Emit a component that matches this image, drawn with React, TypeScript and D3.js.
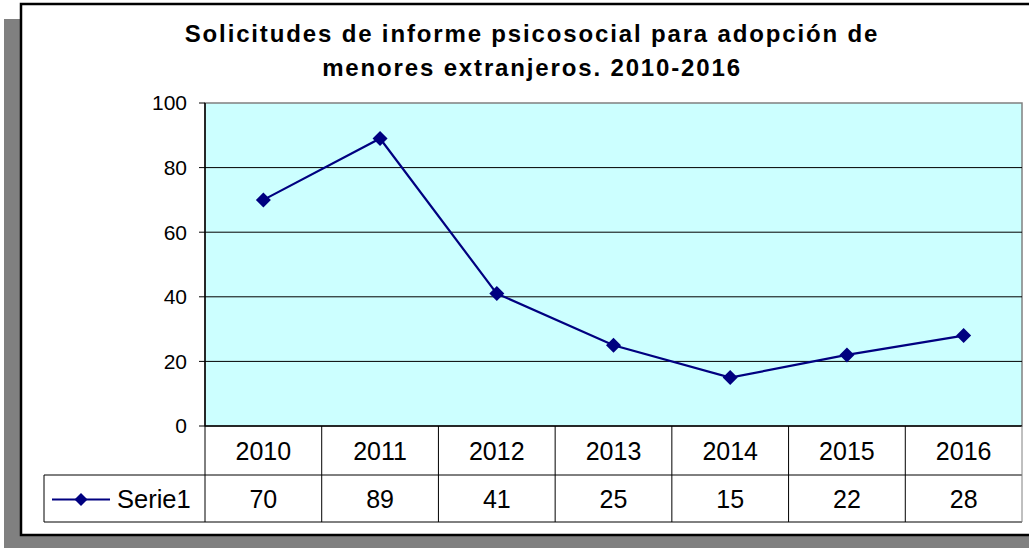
import React from "react";
import * as d3 from "d3";

const years = ["2010", "2011", "2012", "2013", "2014", "2015", "2016"];
const serie1 = [70, 89, 41, 25, 15, 22, 28];
const yTicks = [0, 20, 40, 60, 80, 100];
const seriesName = "Serie1";
const titleLines = [
  "Solicitudes de informe psicosocial para adopción de",
  "menores extranjeros. 2010-2016",
];

const W = 1029;
const H = 548;
const plot = { left: 205, top: 103, right: 1022, bottom: 426 };
const rowH1 = 49;
const rowH2 = 47;
const legendLeft = 44;
const navy = "#000080";
const font = "Arial, 'Liberation Sans', sans-serif";

export default function App() {
  const x = d3
    .scaleBand<string>()
    .domain(years)
    .range([plot.left, plot.right])
    .padding(0);
  const y = d3.scaleLinear().domain([0, 100]).range([plot.bottom, plot.top]);

  const line = d3
    .line<number>()
    .x((_, i) => x(years[i])! + x.bandwidth() / 2)
    .y((d) => y(d));

  const diamond = (cx: number, cy: number, r: number) =>
    `M${cx},${cy - r}L${cx + r},${cy}L${cx},${cy + r}L${cx - r},${cy}Z`;

  const row1Bottom = plot.bottom + rowH1;
  const row2Bottom = row1Bottom + rowH2;

  return (
    <svg
      width={W}
      height={H}
      style={{ position: "absolute", left: 0, top: 0, display: "block" }}
      fontFamily={font}
    >
      {/* shadow + chart box */}
      <rect x={4} y={19} width={W} height={H} fill="#808080" />
      <rect x={21} y={4} width={W + 20} height={531} fill="#fff" stroke="#000" strokeWidth={2.5} />

      {/* title */}
      {titleLines.map((t, i) => (
        <text
          key={i}
          x={532}
          y={42 + i * 34}
          textAnchor="middle"
          fontSize={24}
          fontWeight="bold"
          letterSpacing={1.85}
        >
          {t}
        </text>
      ))}

      {/* plot area */}
      <rect
        x={plot.left}
        y={plot.top}
        width={plot.right - plot.left}
        height={plot.bottom - plot.top}
        fill="#CCFFFF"
        stroke="#808080"
        strokeWidth={1.5}
      />
      {yTicks.slice(1, -1).map((t) => (
        <line key={t} x1={plot.left} x2={plot.right} y1={y(t)} y2={y(t)} stroke="#000" strokeWidth={1} />
      ))}
      <line x1={plot.left} x2={plot.left} y1={plot.top} y2={plot.bottom} stroke="#000" strokeWidth={1.5} />
      {yTicks.map((t) => (
        <g key={t}>
          <line x1={plot.left - 6} x2={plot.left} y1={y(t)} y2={y(t)} stroke="#000" />
          <text x={187} y={y(t)} dy="0.35em" textAnchor="end" fontSize={21}>
            {t}
          </text>
        </g>
      ))}

      {/* series */}
      <path d={line(serie1) ?? ""} fill="none" stroke={navy} strokeWidth={2.2} />
      {serie1.map((v, i) => (
        <path key={i} d={diamond(x(years[i])! + x.bandwidth() / 2, y(v), 7.5)} fill={navy} />
      ))}

      {/* data table */}
      <line x1={plot.left} x2={plot.right} y1={plot.bottom} y2={plot.bottom} stroke="#000" strokeWidth={1.5} />
      <line x1={legendLeft} x2={plot.right} y1={row1Bottom} y2={row1Bottom} stroke="#000" />
      <line x1={legendLeft} x2={plot.right} y1={row2Bottom} y2={row2Bottom} stroke="#000" />
      <line x1={legendLeft} x2={legendLeft} y1={row1Bottom} y2={row2Bottom} stroke="#000" />
      {years.map((yr) => (
        <line
          key={yr}
          x1={x(yr)!}
          x2={x(yr)!}
          y1={plot.bottom}
          y2={row2Bottom}
          stroke="#000"
        />
      ))}
      <line x1={plot.right} x2={plot.right} y1={plot.bottom} y2={row2Bottom} stroke="#808080" />
      {years.map((yr, i) => (
        <g key={yr}>
          <text
            x={x(yr)! + x.bandwidth() / 2}
            y={plot.bottom + rowH1 / 2}
            dy="0.36em"
            textAnchor="middle"
            fontSize={25}
          >
            {yr}
          </text>
          <text
            x={x(yr)! + x.bandwidth() / 2}
            y={row1Bottom + rowH2 / 2}
            dy="0.36em"
            textAnchor="middle"
            fontSize={25}
          >
            {serie1[i]}
          </text>
        </g>
      ))}
      {/* legend key */}
      <line x1={52} x2={110} y1={row1Bottom + rowH2 / 2 + 1} y2={row1Bottom + rowH2 / 2 + 1} stroke={navy} strokeWidth={2} />
      <path d={diamond(81, row1Bottom + rowH2 / 2 + 1, 6.5)} fill={navy} />
      <text x={117} y={row1Bottom + rowH2 / 2} dy="0.36em" fontSize={25.5}>
        {seriesName}
      </text>
    </svg>
  );
}
